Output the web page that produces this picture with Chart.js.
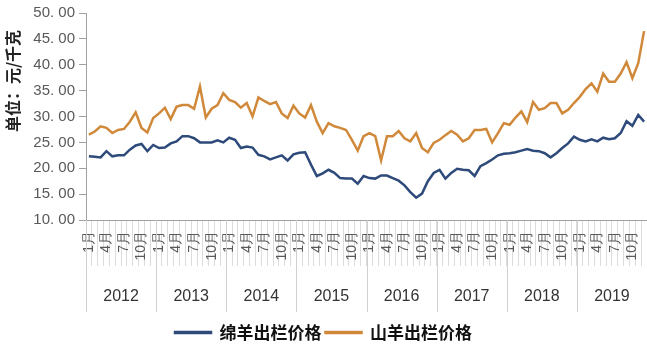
<!DOCTYPE html>
<html>
<head>
<meta charset="utf-8">
<script src="https://cdn.jsdelivr.net/npm/chart.js@4.4.1/dist/chart.umd.min.js"></script>
<style>
  html, body { margin: 0; padding: 0; background: #fff; }
  #wrap { width: 647px; height: 351px; }
</style>
</head>
<body>
<div id="wrap"><canvas id="priceChart"></canvas></div>
<script>
// Years on the lower axis row, months on the upper one
const years = ['2012', '2013', '2014', '2015', '2016', '2017', '2018', '2019'];
const monthNames = ['1月', '2月', '3月', '4月', '5月', '6月', '7月', '8月', '9月', '10月', '11月', '12月'];
const shownMonths = ['1月', '4月', '7月', '10月'];

// Monthly prices, Jan 2012 - Dec 2019 (元/千克)
const sheepPrice = [
    22.3, 22.2, 22.1, 23.3, 22.3, 22.5, 22.5, 23.6, 24.4, 24.7, 23.3, 24.5,
    23.9, 24.0, 24.8, 25.2, 26.2, 26.2, 25.8, 25.0, 25.0, 25.0, 25.4, 25.0,
    25.9, 25.5, 23.9, 24.2, 24.0, 22.6, 22.3, 21.7, 22.1, 22.5, 21.5, 22.7,
    23.0, 23.1, 20.7, 18.5, 19.0, 19.7, 19.1, 18.1, 18.0, 18.0, 17.0, 18.5,
    18.1, 18.0, 18.6, 18.6, 18.1, 17.6, 16.7, 15.4, 14.3, 15.1, 17.5, 19.1,
    19.7, 18.0, 19.1, 19.9, 19.7, 19.6, 18.5, 20.4, 21.0, 21.7, 22.5, 22.8,
    22.9, 23.1, 23.4, 23.7, 23.4, 23.3, 22.9, 22.1, 22.9, 23.9, 24.8, 26.1,
    25.5, 25.2, 25.6, 25.2, 25.9, 25.6, 25.8, 26.8, 29.1, 28.2, 30.3, 29.0
];
const goatPrice = [
    26.5, 27.1, 28.1, 27.8, 26.8, 27.4, 27.6, 29.0, 30.8, 27.8, 26.9, 29.7,
    30.6, 31.7, 29.5, 31.9, 32.2, 32.2, 31.5, 35.8, 29.8, 31.5, 32.2, 34.5,
    33.2, 32.8, 31.7, 32.6, 30.0, 33.7, 33.0, 32.4, 32.8, 30.6, 29.7, 32.1,
    30.6, 29.8, 32.2, 29.0, 26.8, 28.7, 28.1, 27.8, 27.4, 25.5, 23.4, 26.2,
    26.8, 26.2, 21.5, 26.2, 26.2, 27.2, 25.8, 25.2, 26.8, 23.9, 23.1, 24.9,
    25.5, 26.4, 27.2, 26.5, 25.2, 25.8, 27.4, 27.4, 27.6, 25.0, 26.8, 28.7,
    28.4, 29.8, 31.0, 28.9, 32.8, 31.3, 31.6, 32.6, 32.6, 30.6, 31.3, 32.6,
    33.8, 35.3, 36.4, 34.8, 38.3, 36.7, 36.7, 38.3, 40.5, 37.4, 40.3, 46.5
];

const labels = [];
years.forEach(y => monthNames.forEach(m => labels.push(m)));

const sheepColor = '#2e4a7a';
const goatColor = '#d0893a';

// Draws the year row, its separators and the y axis title
const yearRowPlugin = {
    id: 'yearRow',
    afterDraw(chart) {
        const ctx = chart.ctx;
        const xs = chart.scales.x;
        const area = chart.chartArea;
        const step = xs.getPixelForValue(1) - xs.getPixelForValue(0);
        ctx.save();
        ctx.strokeStyle = '#d0d0d0';
        ctx.lineWidth = 1;
        for (let k = 0; k <= years.length; k++) {
            const x = Math.round(xs.getPixelForValue(k * 12) - step / 2) + 0.5;
            ctx.beginPath();
            ctx.moveTo(x, area.bottom);
            ctx.lineTo(x, 312);
            ctx.stroke();
        }
        ctx.fillStyle = '#333';
        ctx.font = '16px "Liberation Sans", Arial, sans-serif';
        ctx.textAlign = 'center';
        ctx.textBaseline = 'middle';
        years.forEach((y, k) => {
            const x = (xs.getPixelForValue(k * 12) + xs.getPixelForValue(k * 12 + 11)) / 2;
            ctx.fillText(y, x, 297);
        });
        // y axis title
        ctx.translate(13, 81);
        ctx.rotate(-Math.PI / 2);
        ctx.fillStyle = '#222';
        ctx.font = 'bold 16px "Noto Sans CJK SC", sans-serif';
        ctx.fillText('单位：元/千克', 0, 0);
        ctx.restore();
    }
};

const ctx = document.getElementById('priceChart').getContext('2d');
new Chart(ctx, {
    type: 'line',
    data: {
        labels: labels,
        datasets: [{
            label: '绵羊出栏价格',
            data: sheepPrice,
            borderColor: sheepColor,
            backgroundColor: sheepColor,
            borderWidth: 2.5,
            pointRadius: 0,
            tension: 0
        }, {
            label: '山羊出栏价格',
            data: goatPrice,
            borderColor: goatColor,
            backgroundColor: goatColor,
            borderWidth: 2.5,
            pointRadius: 0,
            tension: 0
        }]
    },
    options: {
        responsive: true,
        maintainAspectRatio: false,
        animation: false,
        layout: {
            padding: { top: 3, right: 0, left: 0, bottom: 0 }
        },
        plugins: {
            legend: {
                position: 'bottom',
                labels: {
                    boxWidth: 36,
                    boxHeight: 1,
                    padding: 4,
                    color: '#111',
                    font: { family: '"Noto Sans CJK SC", sans-serif', size: 17, weight: 'bold' }
                }
            },
            tooltip: { enabled: false }
        },
        scales: {
            x: {
                type: 'category',
                offset: true,
                grid: {
                    offset: true,
                    drawOnChartArea: false,
                    tickLength: 46,
                    color: '#dcdcdc'
                },
                border: { color: '#a0a0a0' },
                ticks: {
                    autoSkip: false,
                    minRotation: 90,
                    maxRotation: 90,
                    padding: -35,
                    color: '#595959',
                    font: { family: '"Liberation Sans", Arial, sans-serif', size: 14 },
                    callback: function(value, index) {
                        const m = labels[index];
                        return shownMonths.includes(m) ? m : '';
                    }
                },
                afterFit(scale) {
                    scale.height = 100;
                }
            },
            y: {
                min: 10,
                max: 50,
                ticks: {
                    stepSize: 5,
                    padding: 4,
                    color: '#595959',
                    font: { family: '"Liberation Sans", Arial, sans-serif', size: 15 },
                    callback: value => value.toFixed(2).replace('.', '. ')
                },
                grid: {
                    drawOnChartArea: false,
                    tickLength: 7,
                    color: '#a0a0a0'
                },
                border: { color: '#a0a0a0' },
                afterFit(scale) {
                    scale.width = 86;
                }
            }
        }
    },
    plugins: [yearRowPlugin]
});
</script>
</body>
</html>
